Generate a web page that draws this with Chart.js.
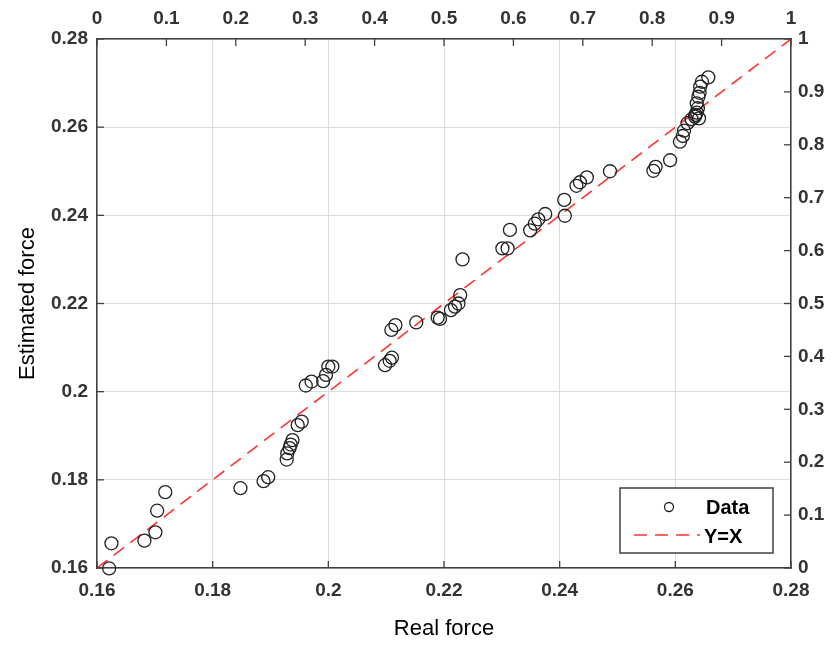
<!DOCTYPE html>
<html>
<head>
<meta charset="utf-8">
<script src="https://cdn.jsdelivr.net/npm/chart.js@4.4.1/dist/chart.umd.min.js"></script>
<style>
  html, body { margin: 0; padding: 0; background: #fff; }
  #wrap { width: 832px; height: 649px; }
</style>
</head>
<body>
<div id="wrap"><canvas id="myChart" width="832" height="649"></canvas></div>
<script>
// data
var realForce = [0.1621, 0.1625, 0.1682, 0.1701, 0.1704, 0.1718, 0.1848, 0.1888, 0.1896, 0.1928,
  0.1929, 0.1933, 0.1935, 0.1938, 0.1947, 0.1954, 0.1961, 0.1971, 0.1991, 0.1996,
  0.2000, 0.2007, 0.2098, 0.2106, 0.2110, 0.2109, 0.2116, 0.2152, 0.2189, 0.2193,
  0.2212, 0.2219, 0.2225, 0.2228, 0.2232, 0.2301, 0.2310, 0.2314, 0.2349, 0.2357,
  0.2363, 0.2375, 0.2408, 0.2409, 0.2429, 0.2435, 0.2447, 0.2487, 0.2562, 0.2566,
  0.2591, 0.2608, 0.2613, 0.2615, 0.2621, 0.2628, 0.2634, 0.2637, 0.2639, 0.2637,
  0.2640, 0.2642, 0.2643, 0.2646, 0.2657, 0.2635, 0.2641];
var estimatedForce = [0.1599, 0.1656, 0.1662, 0.1681, 0.1730, 0.1772, 0.1781, 0.1797, 0.1806, 0.1846,
  0.1860, 0.1872, 0.1880, 0.1890, 0.1924, 0.1932, 0.2014, 0.2023, 0.2024, 0.2038,
  0.2057, 0.2057, 0.2060, 0.2070, 0.2077, 0.2140, 0.2151, 0.2157, 0.2168, 0.2165,
  0.2185, 0.2193, 0.2200, 0.2219, 0.2300, 0.2325, 0.2325, 0.2367, 0.2366, 0.2381,
  0.2391, 0.2403, 0.2435, 0.2399, 0.2467, 0.2475, 0.2486, 0.2500, 0.2501, 0.2510,
  0.2525, 0.2567, 0.2580, 0.2592, 0.2609, 0.2618, 0.2624, 0.2633, 0.2643, 0.2654,
  0.2669, 0.2678, 0.2692, 0.2703, 0.2713, 0.2628, 0.2620];
var refLineX = [0.16, 0.28];
var refLineY = [0.16, 0.28];
var legendLabels = ['Data', 'Y=X'];

var axisColor = '#404040';
var tickFont = { family: 'Liberation Sans, Arial', size: 19, weight: 'bold' };

// 산점도 데이터
var points = realForce.map(function (v, i) { return { x: v, y: estimatedForce[i] }; });
var linePts = refLineX.map(function (v, i) { return { x: v, y: refLineY[i] }; });

// 안쪽 눈금 그리기
var innerTicks = {
  id: 'innerTicks',
  afterDatasetsDraw: function (chart) {
    var c = chart.ctx, a = chart.chartArea, len = 7;
    c.save();
    c.strokeStyle = axisColor;
    c.lineWidth = 1.3;
    ['x', 'x2', 'y', 'y2'].forEach(function (id) {
      var s = chart.scales[id];
      s.ticks.forEach(function (t) {
        var p = s.getPixelForValue(t.value);
        c.beginPath();
        if (id === 'x') { c.moveTo(p, a.bottom); c.lineTo(p, a.bottom - len); }
        if (id === 'x2') { c.moveTo(p, a.top); c.lineTo(p, a.top + len); }
        if (id === 'y') { c.moveTo(a.left, p); c.lineTo(a.left + len, p); }
        if (id === 'y2') { c.moveTo(a.right, p); c.lineTo(a.right - len, p); }
        c.stroke();
      });
    });
    c.restore();
  }
};

// 범례 (그래프 안쪽 오른쪽 아래)
var boxLegend = {
  id: 'boxLegend',
  afterDraw: function (chart) {
    var c = chart.ctx, a = chart.chartArea;
    var w = 153, h = 65;
    var x0 = a.right - 18 - w, y0 = a.bottom - 15 - h;
    c.save();
    c.fillStyle = '#fff';
    c.fillRect(x0, y0, w, h);
    c.strokeStyle = axisColor;
    c.lineWidth = 1.5;
    c.strokeRect(x0, y0, w, h);
    // Data
    c.strokeStyle = '#222';
    c.lineWidth = 1.3;
    c.beginPath();
    c.arc(x0 + 49, y0 + 19, 4.5, 0, Math.PI * 2);
    c.stroke();
    // Y=X
    c.strokeStyle = '#ff3333';
    c.lineWidth = 1.6;
    c.setLineDash([13, 8]);
    c.beginPath();
    c.moveTo(x0 + 14, y0 + 47);
    c.lineTo(x0 + 80, y0 + 47);
    c.stroke();
    c.setLineDash([]);
    c.fillStyle = '#000';
    c.font = 'bold 20px "Liberation Sans", Arial';
    c.textBaseline = 'middle';
    c.textAlign = 'left';
    c.fillText(legendLabels[0], x0 + 86, y0 + 20);
    c.fillText(legendLabels[1], x0 + 84, y0 + 49);
    c.restore();
  }
};

var ctx = document.getElementById('myChart').getContext('2d');
var myChart = new Chart(ctx, {
  data: {
    datasets: [{
      type: 'scatter',
      label: legendLabels[0],
      data: points,
      clip: false,
      pointStyle: 'circle',
      pointRadius: 6.5,
      pointHoverRadius: 6.5,
      pointBorderWidth: 1.3,
      borderColor: '#222',
      backgroundColor: 'rgba(0,0,0,0)'
    }, {
      type: 'line',
      label: legendLabels[1],
      data: linePts,
      borderColor: '#ff3333',
      borderWidth: 1.6,
      borderDash: [13, 8],
      pointRadius: 0,
      fill: false
    }]
  },
  options: {
    responsive: false,
    animation: false,
    layout: { padding: 0 },
    plugins: {
      legend: { display: false },
      tooltip: { enabled: false }
    },
    scales: {
      x: {
        type: 'linear',
        position: 'bottom',
        min: 0.16, max: 0.28,
        afterFit: function (s) { s.height = 81; },
        ticks: {
          stepSize: 0.02, font: tickFont, color: '#333', padding: 11, maxRotation: 0,
          callback: function (v) { return +v.toFixed(2); }
        },
        grid: { color: '#dcdcdc', lineWidth: 1, drawTicks: false },
        border: { color: axisColor, width: 1.5 },
        title: { display: true, text: 'Real force', font: { family: 'Liberation Sans, Arial', size: 22, lineHeight: 1.45 }, color: '#000' }
      },
      x2: {
        type: 'linear',
        position: 'top',
        min: 0, max: 1,
        afterFit: function (s) { s.height = 39; },
        ticks: {
          stepSize: 0.1, font: tickFont, color: '#333', padding: 9, maxRotation: 0,
          callback: function (v) { return +v.toFixed(1); }
        },
        grid: { drawOnChartArea: false, drawTicks: false },
        border: { color: axisColor, width: 1.5 }
      },
      y: {
        type: 'linear',
        position: 'left',
        min: 0.16, max: 0.28,
        afterFit: function (s) { s.width = 97; },
        ticks: {
          stepSize: 0.02, font: tickFont, color: '#333', padding: 9,
          callback: function (v) { return +v.toFixed(2); }
        },
        grid: { color: '#dcdcdc', lineWidth: 1, drawTicks: false },
        border: { color: axisColor, width: 1.5 },
        title: { display: true, text: 'Estimated force', font: { family: 'Liberation Sans, Arial', size: 22, lineHeight: 2.2 }, color: '#000' }
      },
      y2: {
        type: 'linear',
        position: 'right',
        min: 0, max: 1,
        afterFit: function (s) { s.width = 41; },
        ticks: {
          stepSize: 0.1, font: tickFont, color: '#333', padding: 7,
          callback: function (v) { return +v.toFixed(1); }
        },
        grid: { drawOnChartArea: false, drawTicks: false },
        border: { color: axisColor, width: 1.5 }
      }
    }
  },
  plugins: [innerTicks, boxLegend]
});
</script>
</body>
</html>
